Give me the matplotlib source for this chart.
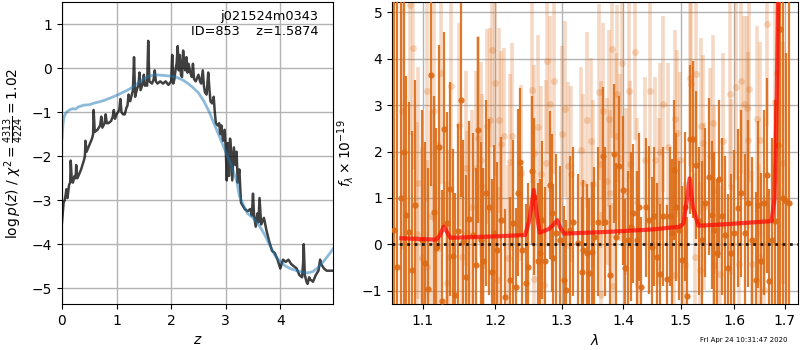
import matplotlib
matplotlib.use('Agg')
import matplotlib.pyplot as plt
from matplotlib.ticker import NullLocator

# p(z): noisy curve (dark) and smooth curve (blue)
z_pz = [0.00, 0.03, 0.05, 0.07, 0.08, 0.10, 0.13, 0.15, 0.16, 0.18,
        0.20, 0.23, 0.25, 0.26, 0.28, 0.30, 0.35, 0.40, 0.42, 0.43,
        0.45, 0.50, 0.55, 0.57, 0.58, 0.60, 0.65, 0.70, 0.72, 0.74,
        0.78, 0.80, 0.82, 0.85, 0.90, 0.93, 0.95, 0.97, 1.00, 1.05,
        1.07, 1.09, 1.12, 1.15, 1.18, 1.20, 1.22, 1.25, 1.28, 1.30,
        1.32, 1.34, 1.38, 1.40, 1.42, 1.44, 1.48, 1.50, 1.52, 1.54,
        1.56, 1.58, 1.60, 1.65, 1.68, 1.70, 1.72, 1.75, 1.80, 1.85,
        1.90, 1.95, 2.00, 2.02, 2.04, 2.06, 2.09, 2.10, 2.12, 2.14,
        2.16, 2.18, 2.20, 2.22, 2.24, 2.26, 2.28, 2.30, 2.32, 2.35,
        2.38, 2.40, 2.42, 2.45, 2.50, 2.53, 2.55, 2.58, 2.60, 2.62,
        2.65, 2.68, 2.70, 2.72, 2.75, 2.78, 2.80, 2.82, 2.85, 2.88,
        2.90, 2.92, 2.95, 2.98, 3.00, 3.02, 3.04, 3.06, 3.08, 3.10,
        3.12, 3.15, 3.18, 3.20, 3.22, 3.25, 3.28, 3.30, 3.35, 3.40,
        3.45, 3.48, 3.50, 3.52, 3.55, 3.58, 3.60, 3.62, 3.65, 3.70,
        3.75, 3.80, 3.85, 3.90, 3.95, 4.00, 4.05, 4.10, 4.15, 4.20,
        4.25, 4.30, 4.35, 4.40, 4.42, 4.43, 4.45, 4.48, 4.50, 4.53,
        4.55, 4.60, 4.65, 4.70, 4.73, 4.75, 4.80, 4.85, 4.90, 4.97]
logp = [-3.50, -3.05, -3.00, -2.85, -2.75, -2.95, -2.65, -2.60, -2.10, -2.55,
        -2.60, -2.45, -2.50, -2.20, -2.50, -2.45, -2.30, -2.10, -2.00, -1.65,
        -1.90, -1.75, -1.60, -1.50, -0.95, -1.45, -1.40, -1.30, -1.10, -1.35,
        -1.25, -1.05, -1.25, -1.25, -1.20, -1.10, -0.95, -1.15, -1.05, -0.95,
        -0.70, -1.00, -1.05, -1.05, -0.90, -0.85, -0.60, -0.75, -0.60, -0.50,
        0.25, -0.65, -0.45, -0.40, -0.10, -0.50, -0.35, -0.15, -0.40, -0.35,
        -0.40, 0.62, -0.30, -0.35, -0.25, -0.05, -0.30, -0.35, -0.30, -0.35,
        -0.30, -0.38, -0.30, 0.30, -0.35, -0.25, 0.05, 0.10, 0.50, -0.05,
        0.30, -0.15, -0.20, 0.40, 0.05, -0.05, 0.25, -0.10, 0.10, -0.10,
        -0.20, 0.10, -0.25, -0.30, -0.15, -0.30, -0.35, -0.05, -0.40, -0.55,
        -0.60, -0.10, -0.45, -0.75, -0.80, -0.65, -1.00, -1.25, -1.30, -1.25,
        -1.50, -1.30, -1.65, -1.40, -1.80, -2.55, -1.70, -2.45, -1.60, -1.90,
        -2.55, -1.80, -2.20, -1.90, -2.60, -2.30, -3.05, -3.10, -3.20, -3.25,
        -3.20, -3.35, -2.85, -3.35, -3.60, -3.30, -3.50, -2.95, -3.55, -3.40,
        -3.70, -3.95, -4.15, -4.20, -4.35, -4.55, -4.35, -4.40, -4.35, -4.45,
        -4.50, -4.55, -4.70, -4.75, -4.40, -4.00, -4.70, -4.85, -4.90, -4.75,
        -4.80, -4.85, -4.70, -4.60, -4.35, -4.45, -4.55, -4.60, -4.60, -4.60]

z_smooth = [0.00, 0.02, 0.04, 0.07, 0.10, 0.15, 0.20, 0.25, 0.30, 0.40,
            0.50, 0.60, 0.70, 0.80, 0.90, 1.00, 1.10, 1.20, 1.30, 1.40,
            1.50, 1.60, 1.70, 1.80, 1.90, 2.00, 2.10, 2.20, 2.30, 2.40,
            2.50, 2.60, 2.70, 2.80, 2.90, 3.00, 3.10, 3.20, 3.25, 3.30,
            3.40, 3.50, 3.60, 3.70, 3.80, 3.90, 4.00, 4.10, 4.20, 4.30,
            4.40, 4.50, 4.60, 4.70, 4.80, 4.90, 4.97]
logp_smooth = [-1.60, -1.25, -1.10, -1.02, -0.98, -0.94, -0.92, -0.93, -0.88, -0.84,
               -0.83, -0.79, -0.76, -0.72, -0.67, -0.62, -0.56, -0.50, -0.43, -0.33,
               -0.24, -0.18, -0.15, -0.16, -0.17, -0.18, -0.21, -0.26, -0.34, -0.44,
               -0.56, -0.75, -1.00, -1.30, -1.60, -1.90, -2.20, -2.55, -2.90, -3.05,
               -3.30, -3.40, -3.55, -3.75, -4.00, -4.25, -4.40, -4.50, -4.56, -4.60,
               -4.63, -4.65, -4.62, -4.52, -4.38, -4.22, -4.10]

# spectrum, dark points
lam_dk = [1.062, 1.067, 1.071, 1.075, 1.078, 1.082, 1.086, 1.090, 1.099, 1.103,
          1.107, 1.111, 1.115, 1.118, 1.121, 1.125, 1.129, 1.132, 1.136, 1.140,
          1.144, 1.147, 1.151, 1.155, 1.159, 1.163, 1.168, 1.172, 1.176, 1.180,
          1.183, 1.187, 1.191, 1.195, 1.199, 1.203, 1.209, 1.214, 1.221, 1.226,
          1.231, 1.233, 1.237, 1.240, 1.246, 1.249, 1.254, 1.257, 1.263, 1.266,
          1.270, 1.274, 1.282, 1.285, 1.287, 1.291, 1.298, 1.304, 1.306, 1.313,
          1.317, 1.325, 1.332, 1.334, 1.340, 1.344, 1.348, 1.352, 1.358, 1.366,
          1.370, 1.377, 1.384, 1.388, 1.393, 1.399, 1.403, 1.407, 1.413, 1.417,
          1.423, 1.427, 1.430, 1.439, 1.443, 1.449, 1.453, 1.457, 1.463, 1.468,
          1.475, 1.480, 1.484, 1.488, 1.492, 1.497, 1.502, 1.508, 1.512, 1.517,
          1.523, 1.527, 1.533, 1.539, 1.545, 1.551, 1.557, 1.561, 1.566, 1.571,
          1.577, 1.582, 1.587, 1.594, 1.600, 1.607, 1.613, 1.621, 1.627, 1.634,
          1.642, 1.646, 1.652, 1.658, 1.664, 1.668, 1.673, 1.680, 1.685, 1.690,
          1.696, 1.702, 1.709]
flux_dk = [0.30, -0.50, 1.00, 2.00, 0.63, 0.27, -0.55, 0.85, 0.10, -0.40,
           -0.96, 3.65, 0.70, -0.09, 2.10, -1.22, 2.48, 0.45, 1.19, -0.25,
           -1.09, 0.29, 3.11, 0.05, -0.70, 0.55, 0.20, -0.45, 2.46, 0.10,
           -0.35, 1.11, 0.80, -0.60, 0.25, -0.12, 0.52, -1.13, -0.77, 0.45,
           -0.91, 1.11, 1.77, -0.12, -0.84, -0.48, 1.59, 1.03, -0.37, -0.19,
           0.52, -0.37, 1.28, 0.67, -0.30, 0.24, 0.09, -0.77, -0.98, 0.31,
           0.49, 0.02, -0.59, -0.12, -0.19, -0.61, -0.16, 0.16, 0.49, 1.90,
           0.49, -0.66, 1.95, 0.16, 1.69, 1.16, -0.52, 0.09, 0.38, 0.67,
           0.09, 0.80, -0.91, 0.80, 0.52, -0.05, 0.60, -0.27, -0.63, 0.60,
           -0.75, 0.60, 0.24, 1.60, 0.80, 0.30, -0.34, 0.81, -1.11, 2.26,
           2.26, 1.71, 0.50, 0.09, 0.90, 1.46, 0.63, 0.30, -0.19, 1.40,
           0.60, 0.20, -0.52, -0.19, 0.24, 0.78, 1.10, 0.24, 0.88, 0.09,
           -0.77, 0.85, -0.37, 0.90, 1.49, -0.80, 0.09, 0.50, 2.14, 4.63,
           1.00, 0.93, 0.90]
err_dk = [6.0, 6.0, 6.0, 3.5, 3.0, 2.8, 3.0, 2.7, 2.8, 2.6,
          2.6, 2.4, 2.5, 2.6, 2.2, 2.4, 2.1, 2.4, 2.3, 2.3,
          2.2, 2.3, 2.1, 2.2, 2.2, 2.1, 2.2, 2.1, 2.0, 2.1,
          2.0, 2.0, 1.9, 2.0, 1.9, 1.9, 1.8, 1.9, 1.8, 1.8,
          1.7, 1.8, 1.6, 1.8, 1.7, 1.8, 1.6, 1.7, 1.7, 1.6,
          1.7, 1.6, 1.6, 1.7, 1.6, 1.7, 1.6, 1.6, 1.5, 1.6,
          1.6, 1.5, 1.6, 1.5, 1.5, 1.6, 1.5, 1.5, 1.6, 1.5,
          1.6, 1.5, 1.5, 1.6, 1.5, 1.6, 1.5, 1.5, 1.6, 1.5,
          1.5, 1.6, 1.5, 1.5, 1.6, 1.5, 1.5, 1.6, 1.5, 1.5,
          1.6, 1.5, 1.6, 1.5, 1.6, 1.5, 1.6, 1.6, 1.7, 1.6,
          1.7, 1.6, 1.6, 1.7, 1.6, 1.7, 1.6, 1.7, 1.6, 1.7,
          1.7, 1.7, 1.6, 1.7, 1.8, 1.7, 1.8, 1.7, 1.8, 1.8,
          1.9, 1.8, 1.9, 2.0, 2.1, 2.0, 2.2, 2.6, 3.5, 6.0,
          6.0, 3.2, 6.0]

# spectrum, light points
lam_lt = [1.073, 1.083, 1.087, 1.092, 1.094, 1.099, 1.105, 1.106, 1.111, 1.115,
          1.121, 1.124, 1.132, 1.135, 1.138, 1.149, 1.153, 1.159, 1.160, 1.167,
          1.173, 1.175, 1.180, 1.181, 1.183, 1.188, 1.192, 1.195, 1.200, 1.204,
          1.206, 1.209, 1.213, 1.218, 1.221, 1.225, 1.238, 1.254, 1.257, 1.258,
          1.263, 1.268, 1.273, 1.275, 1.277, 1.281, 1.288, 1.301, 1.305, 1.310,
          1.315, 1.331, 1.334, 1.340, 1.346, 1.350, 1.359, 1.362, 1.363, 1.366,
          1.373, 1.376, 1.378, 1.381, 1.383, 1.387, 1.389, 1.394, 1.398, 1.405,
          1.409, 1.412, 1.420, 1.423, 1.424, 1.437, 1.446, 1.455, 1.461, 1.463,
          1.469, 1.478, 1.487, 1.490, 1.493, 1.499, 1.508, 1.517, 1.519, 1.526,
          1.528, 1.535, 1.536, 1.541, 1.543, 1.554, 1.559, 1.561, 1.562, 1.573,
          1.578, 1.591, 1.593, 1.603, 1.608, 1.613, 1.618, 1.624, 1.626, 1.629,
          1.634, 1.644, 1.647, 1.650, 1.657, 1.663, 1.680, 1.683, 1.697]
flux_lt = [2.87, 5.16, 4.22, 0.23, 1.33, -0.30, 3.31, -0.48, 0.60, 2.87,
           -0.09, 3.70, -0.83, -0.27, 3.41, 2.57, -0.27, 1.64, 0.24, 0.80,
           1.64, 2.30, 1.82, 1.25, -0.45, 2.54, 2.67, 4.19, 3.48, -0.77,
           2.67, 2.16, 2.33, -0.30, 1.77, 2.33, 1.53, 3.33, 1.96, -0.75,
           2.52, 1.52, -0.87, 1.75, 3.95, 3.02, 3.52, 2.38, 2.92, 1.69,
           1.52, 2.03, 1.33, 2.68, 2.22, 1.30, 3.28, -1.10, 1.72, 2.87,
           1.36, 2.71, 1.10, 4.20, -0.90, 2.33, 3.25, 1.87, 3.90, 1.14,
           3.30, 1.72, 4.14, 0.92, -0.87, 1.81, 3.31, 1.81, 0.92, 2.00,
           3.02, 2.10, -0.66, 2.71, 2.39, 1.82, -0.45, 3.58, 3.46, -0.27,
           3.68, -0.56, 2.54, 2.18, 0.81, 1.90, 2.62, -0.45, 1.17, -0.64,
           2.22, 3.25, 1.24, 3.38, -0.42, 3.52, 3.03, 2.93, 2.25, 3.34,
           -0.42, 2.70, -0.27, 2.25, -0.98, 4.74, 3.07, 3.70, 1.75]
err_lt = [3.0, 2.8, 2.6, 2.4, 2.5, 2.4, 2.4, 2.3, 2.3, 2.4,
          2.3, 2.4, 2.2, 2.3, 2.3, 2.2, 2.2, 2.1, 2.2, 2.1,
          2.1, 2.2, 2.1, 2.0, 2.1, 2.1, 2.0, 2.1, 2.0, 2.0,
          2.0, 2.0, 1.9, 2.0, 1.9, 2.0, 1.9, 2.0, 1.9, 1.9,
          2.0, 1.9, 1.9, 1.8, 2.0, 1.9, 2.0, 1.9, 1.9, 1.8,
          1.9, 1.8, 1.9, 1.9, 1.8, 1.8, 1.9, 1.8, 1.8, 1.9,
          1.8, 1.9, 1.8, 1.9, 1.8, 1.8, 1.9, 1.8, 1.9, 1.8,
          1.9, 1.8, 1.9, 1.8, 1.8, 1.8, 1.9, 1.8, 1.8, 1.9,
          1.9, 1.8, 1.8, 1.9, 1.8, 1.9, 1.8, 1.9, 1.9, 1.8,
          1.9, 1.9, 1.9, 1.9, 1.8, 1.9, 1.9, 1.9, 1.8, 1.9,
          1.9, 2.0, 1.9, 2.0, 1.9, 2.0, 1.9, 2.0, 1.9, 2.0,
          2.0, 2.0, 2.0, 2.1, 2.0, 2.2, 2.2, 2.4, 2.6]

# best-fit model
lam_mod = [1.072, 1.118, 1.123, 1.128, 1.133, 1.137, 1.200, 1.244, 1.250, 1.257,
           1.262, 1.266, 1.280, 1.287, 1.293, 1.298, 1.304, 1.377, 1.450, 1.498,
           1.505, 1.511, 1.516, 1.522, 1.532, 1.580, 1.673, 1.679, 1.683, 1.686,
           1.689]
flux_mod = [0.13, 0.10, 0.20, 0.38, 0.25, 0.14, 0.17, 0.20, 0.50, 1.17,
            0.60, 0.25, 0.33, 0.42, 0.52, 0.35, 0.23, 0.27, 0.32, 0.38,
            0.45, 0.95, 1.42, 0.80, 0.40, 0.43, 0.50, 1.00, 3.00, 5.00,
            7.00]

lam_ticks = [1.1, 1.2, 1.3, 1.4, 1.5, 1.6, 1.7]
col = '#dc6a14'

fig = plt.figure(figsize=(8, 3.5), dpi=100)

# left: p(z)
ax = fig.add_axes([0.0775, 0.131, 0.339, 0.863])
ax.plot(z_pz, logp, color='k', alpha=0.75, lw=1.8)
ax.plot(z_smooth, logp_smooth, color='#1f77b4', alpha=0.5, lw=2)
ax.set_xlim(0, 4.97)
ax.set_ylim(-5.36, 1.5)
ax.set_xticks([0, 1, 2, 3, 4])
ax.set_yticks([-5, -4, -3, -2, -1, 0, 1])
ax.grid(color='0.7', lw=1)
ax.set_xlabel(r'$z$')
ax.set_ylabel(r'$\log p(z)$ / $\chi^2=\frac{4313}{4224}=1.02$')
ax.text(0.945, 0.975, 'j021524m0343\nID=853    z=1.5874', transform=ax.transAxes,
        ha='right', va='top', fontsize=9.3)

# right: spectrum
ax2 = fig.add_axes([0.49, 0.131, 0.5075, 0.863])
ax2.errorbar(lam_lt, flux_lt, yerr=err_lt, fmt='o', color=col, alpha=0.25,
             ms=5, elinewidth=2.6, mec='none', zorder=2)
ax2.errorbar(lam_dk, flux_dk, yerr=err_dk, fmt='o', color=col, alpha=0.9,
             ms=4.5, elinewidth=1.6, mec='none', zorder=3)
ax2.plot(lam_mod, flux_mod, color='r', alpha=0.7, lw=3, zorder=4)
ax2.axhline(0, color='k', ls=':', lw=2, alpha=0.85, zorder=5)
ax2.set_xscale('log')
ax2.set_xlim(1.06, 1.727)
ax2.set_ylim(-1.29, 5.22)
ax2.set_xticks(lam_ticks)
ax2.set_xticklabels(['%.1f' % t for t in lam_ticks])
ax2.xaxis.set_minor_locator(NullLocator())
ax2.set_yticks([-1, 0, 1, 2, 3, 4, 5])
ax2.grid(color='0.7', lw=1)
ax2.set_axisbelow(True)
ax2.set_xlabel(r'$\lambda$')
ax2.set_ylabel(r'$f_\lambda \times 10^{-19}$')

fig.text(0.985, 0.02, 'Fri Apr 24 10:31:47 2020', ha='right', va='bottom', fontsize=5)

fig.savefig('out.png', dpi=100)
